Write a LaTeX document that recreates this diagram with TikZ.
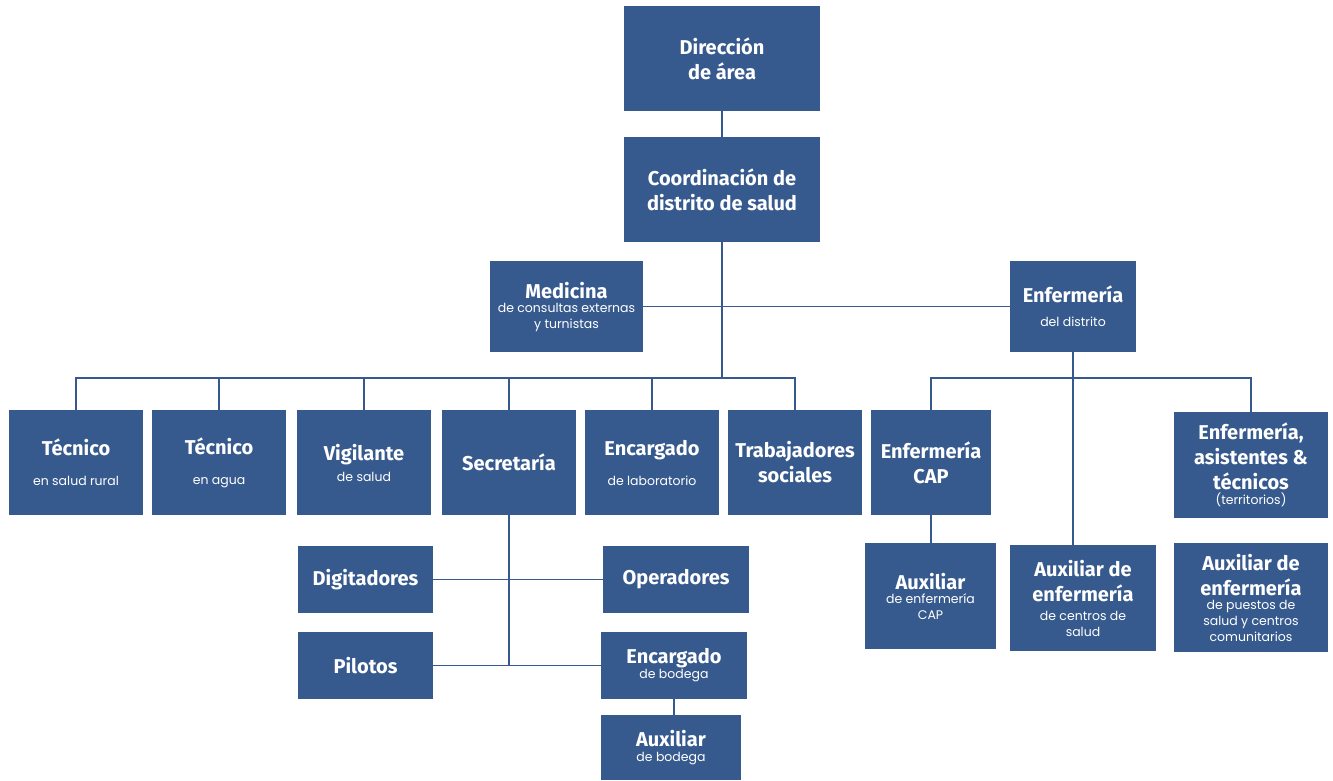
\documentclass[tikz,border=0pt]{standalone}
\usepackage{fontspec}
\setmainfont{Fira Sans}
\newfontfamily\subfont{Poppins}
\usepackage{tikz}
\definecolor{azul}{RGB}{55,90,142}
\newcommand{\sub}[1]{{\subfont\mdseries\fontsize{12.5}{14}\selectfont #1}}

\begin{document}
\begin{tikzpicture}[x = 1pt, y = -1pt,
    puesto/.style = {fill = azul, text = white, align = center, inner sep = 2pt,
                     font = \fontsize{20}{25}\selectfont\bfseries},
    linea/.style = {draw = azul, line width = 1.4pt}]
        \useasboundingbox (0,0) rectangle (1333,780);
        % top
        \node[puesto, minimum width = 196, minimum height = 105] (dir) at (722,58.5)
             {Dirección\\de área};
        \node[puesto, minimum width = 196, minimum height = 105] (coord) at (722,189.5)
             {Coordinación de\\distrito de salud};
        \node[puesto, minimum width = 153, minimum height = 91] (med) at (566.5,306.5)
             {Medicina\\[-11pt]\sub{de consultas externas}\\[-9pt]\sub{y turnistas}};
        \node[puesto, minimum width = 126, minimum height = 91] (enf) at (1073,306.5)
             {Enfermería\\[-1pt]\sub{del distrito}};
        % second row
        \node[puesto, minimum width = 134, minimum height = 105] (tec1) at (76,462.5)
             {Técnico\\[5pt]\sub{en salud rural}};
        \node[puesto, minimum width = 134, minimum height = 105] (tec2) at (219,462.5)
             {Técnico\\[5pt]\sub{en agua}};
        \node[puesto, minimum width = 134, minimum height = 105] (vig) at (364,462.5)
             {Vigilante\\[-4pt]\sub{de salud}};
        \node[puesto, minimum width = 134, minimum height = 105] (sec) at (509,462.5)
             {Secretaría};
        \node[puesto, minimum width = 134, minimum height = 105] (lab) at (652,462.5)
             {Encargado\\[5pt]\sub{de laboratorio}};
        \node[puesto, minimum width = 134, minimum height = 105] (trab) at (795,462.5)
             {Trabajadores\\sociales};
        \node[puesto, minimum width = 120, minimum height = 105] (ecap) at (931,462.5)
             {Enfermería\\CAP};
        \node[puesto, minimum width = 154, minimum height = 106] (easis) at (1251,465)
             {Enfermería,\\asistentes \&\\técnicos\\[-10pt]\sub{(territorios)}};
        % secretaria
        \node[puesto, minimum width = 135, minimum height = 67] (digit) at (365.5,579.5)
             {Digitadores};
        \node[puesto, minimum width = 146, minimum height = 67] (oper) at (676,579.5)
             {Operadores};
        \node[puesto, minimum width = 135, minimum height = 67] (pil) at (365.5,665.5)
             {Pilotos};
        \node[puesto, minimum width = 146, minimum height = 67] (bod) at (674,665.5)
             {Encargado\\[-10pt]\sub{de bodega}};
        \node[puesto, minimum width = 140, minimum height = 65] (auxb) at (671,747.5)
             {Auxiliar\\[-10pt]\sub{de bodega}};
        % enfermeria
        \node[puesto, minimum width = 131, minimum height = 106] (auxcap) at (930.5,596)
             {Auxiliar\\[-11pt]\sub{de enfermería}\\[-9pt]\sub{CAP}};
        \node[puesto, minimum width = 146, minimum height = 106] (auxcs) at (1083,598)
             {Auxiliar de\\enfermería\\[-6pt]\sub{de centros de}\\[-9pt]\sub{salud}};
        \node[puesto, minimum width = 154, minimum height = 109] (auxps) at (1251,597.5)
             {Auxiliar de\\enfermería\\[-11pt]\sub{de puestos de}\\[-9pt]\sub{salud y centros}\\[-9pt]\sub{comunitarios}};
        % lines
        \coordinate (bus) at (722,378);
        \coordinate (rbus) at (1075,378);
        \draw[linea] (dir.south) -- (coord.north);
        \draw[linea] (coord.south) -- (bus);
        \draw[linea] (med.east) -- (enf.west);
        \draw[linea] (tec1.north) -- (tec1.north |- bus) -- (trab.north |- bus) -- (trab.north);
        \foreach \n in {tec2, vig, sec, lab}
            \draw[linea] (\n.north) -- (\n.north |- bus);
        \draw[linea] (enf.south) -- (enf.south |- auxcs.north);
        \draw[linea] (ecap.north) -- (ecap.north |- rbus) -- (easis.north |- rbus) -- (easis.north);
        \draw[linea] (ecap.south) -- (ecap.south |- auxcap.north);
        \draw[linea] (sec.south) -- (sec.south |- pil.east);
        \draw[linea] (digit.east) -- (oper.west);
        \draw[linea] (pil.east) -- (bod.west);
        \draw[linea] (bod.south) -- (bod.south |- auxb.north);
      \end{tikzpicture}
\end{document}
